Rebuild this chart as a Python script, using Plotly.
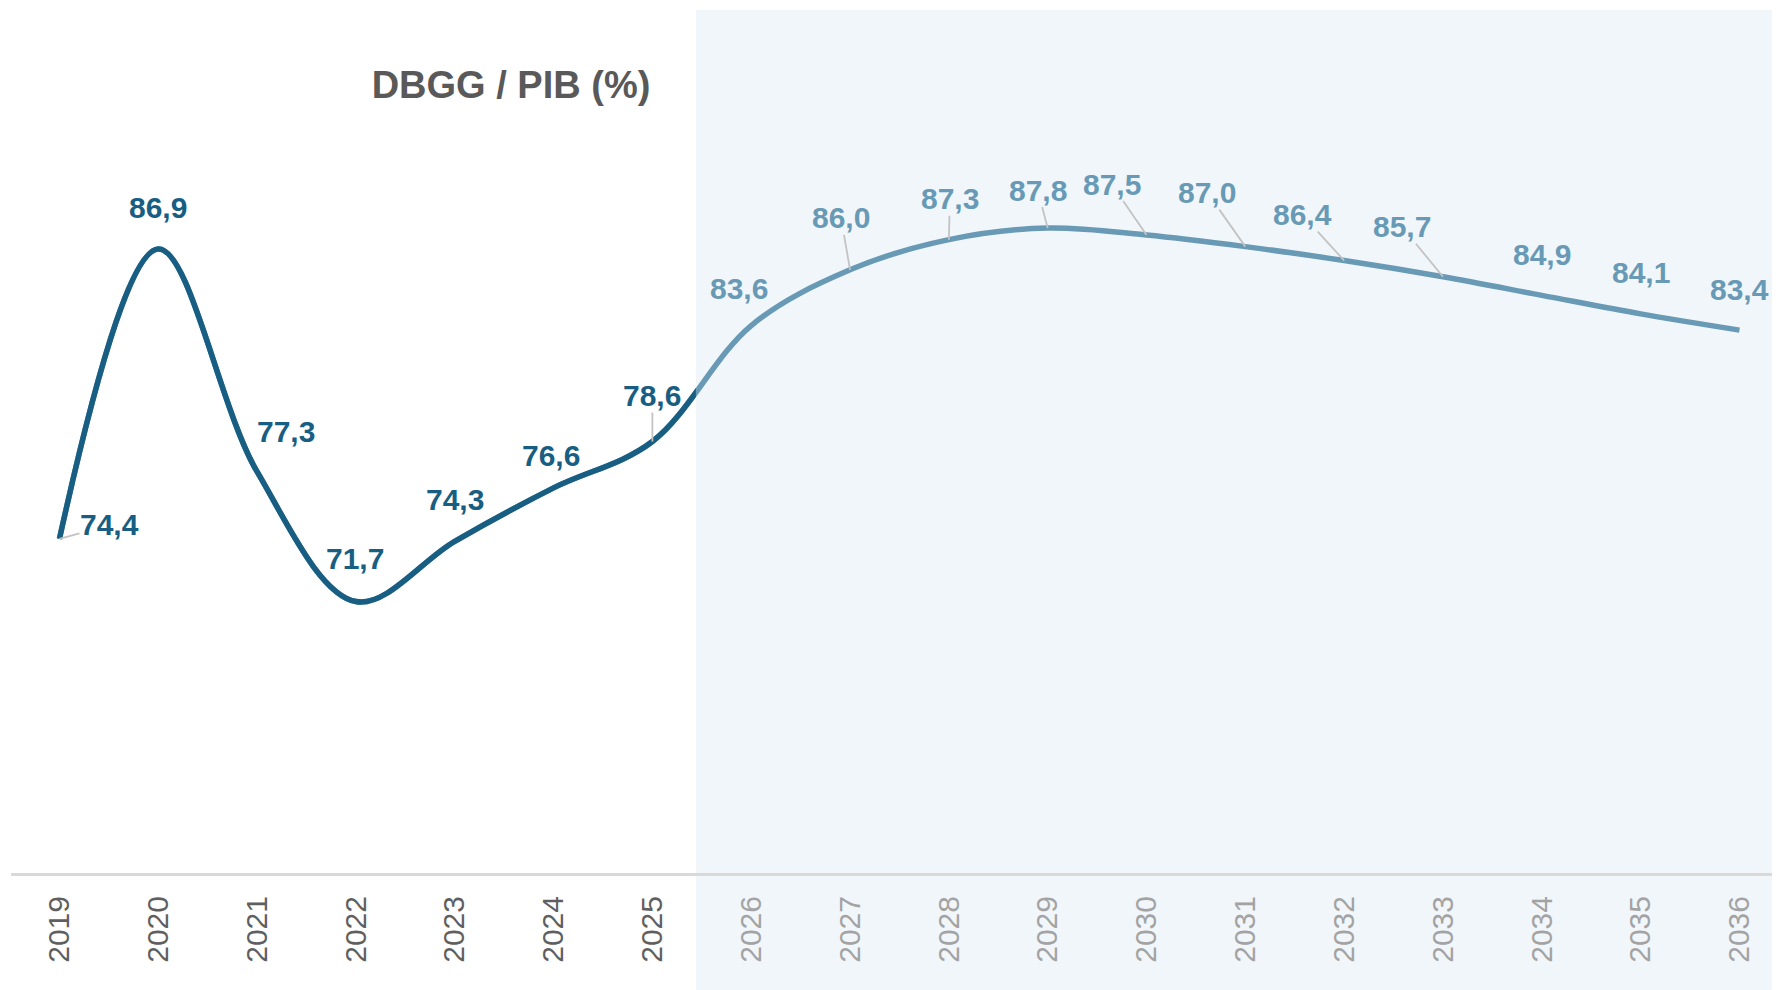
import plotly.graph_objects as go

# ---- data ----
years = list(range(2019, 2037))
debt_ratio = [74.4, 86.9, 77.3, 71.7, 74.3, 76.6, 78.6, 83.6, 86.0, 87.3,
              87.8, 87.5, 87.0, 86.4, 85.7, 84.9, 84.1, 83.4]
last_actual_year = 2025
title_text = "DBGG / PIB (%)"

# label placement (pixel offsets from the point) and leader lines
label_dx = [50, 0, 29, -1, 0, -3, 0, -12, -9, 1, -10, -35, -38, -42, -41, 0, 0, 0]
label_dy = [-14, -41, -40, -43, -42, -32, -46, -37, -52, -41, -38, -51, -54, -46, -50, -41, -41, -41]
leader = [True, False, False, False, False, False, True, False, True, True,
          True, True, True, True, True, False, False, False]

# ---- style ----
PAGE_OFF = 8  # default body margin of the html page
EXTRA_R = 18  # figure extends a little beyond the window on the right
W, H = 1780 - PAGE_OFF + EXTRA_R, 990 - PAGE_OFF
AXIS_Y = 873 - PAGE_OFF
ML, MR, MT, MB = 11 - PAGE_OFF, EXTRA_R, 10 - PAGE_OFF, H - AXIS_Y
X0, X1 = 2018.51, 2036.41
Y0, Y1 = 60, 97.2
BOUNDARY = 2025.44
DARK = "#185e82"
LIGHT = "#689ab5"
SHADE = "#f1f6fb"
FONT = "Liberation Sans, Arial, sans-serif"

frac = (BOUNDARY - X0) / (X1 - X0)

fig = go.Figure()

# light (forecast) line across whole range
fig.add_trace(go.Scatter(
    x=years, y=debt_ratio, mode="lines",
    line=dict(color=LIGHT, width=5.5, shape="spline", smoothing=1, simplify=False),
    hoverinfo="skip", showlegend=False, xaxis="x", yaxis="y"))

# dark (actual) line, clipped to the left part via a narrower x-axis domain
fig.add_trace(go.Scatter(
    x=years, y=debt_ratio, mode="lines",
    line=dict(color=DARK, width=5.5, shape="spline", smoothing=1, simplify=False),
    hoverinfo="skip", showlegend=False, xaxis="x2", yaxis="y"))

# shaded forecast region
fig.add_shape(type="rect", xref="paper", yref="paper",
              x0=frac, x1=1.05, y0=-0.3, y1=1.0,
              fillcolor=SHADE, line=dict(width=0), layer="below")

# value labels
for yr, v, dx, dy, ld in zip(years, debt_ratio, label_dx, label_dy, leader):
    col = DARK if yr <= last_actual_year else LIGHT
    fig.add_annotation(
        x=yr, y=v, xref="x", yref="y",
        text=f"{v:.1f}".replace(".", ","),
        showarrow=True, arrowhead=0, ax=dx, ay=dy,
        arrowcolor="#c3c3c3" if ld else "rgba(0,0,0,0)", arrowwidth=1.8,
        standoff=0, borderpad=0,
        font=dict(family=FONT, size=30, color=col, weight="bold"))

ticktext = [
    f'<span style="color:{"#5f5f5f" if yr <= last_actual_year else "#a3a3a3"}">{yr}</span>'
    for yr in years
]

fig.update_layout(
    width=W, height=H,
    margin=dict(l=ML, r=MR, t=MT, b=MB),
    paper_bgcolor="white", plot_bgcolor="rgba(0,0,0,0)",
    title=dict(text=f"<b>{title_text}</b>", x=(511 - PAGE_OFF) / W, xref="container",
               xanchor="center", y=1 - (85 - PAGE_OFF) / H, yref="container",
               yanchor="middle",
               font=dict(family=FONT, size=38, color="#595959")),
    xaxis=dict(range=[X0, X1], tickvals=years, ticktext=ticktext, tickangle=-90,
               showgrid=False, zeroline=False, showline=True, linecolor="#d9d9d9",
               linewidth=3, ticks="", ticklabelstandoff=8,
               tickfont=dict(family=FONT, size=30, color="#5f5f5f"), fixedrange=True),
    xaxis2=dict(domain=[0, frac], range=[X0, BOUNDARY], visible=False, anchor="y",
                fixedrange=True),
    yaxis=dict(range=[Y0, Y1], visible=False, showgrid=False, zeroline=False,
               fixedrange=True),
)

fig.write_html("out.html")
